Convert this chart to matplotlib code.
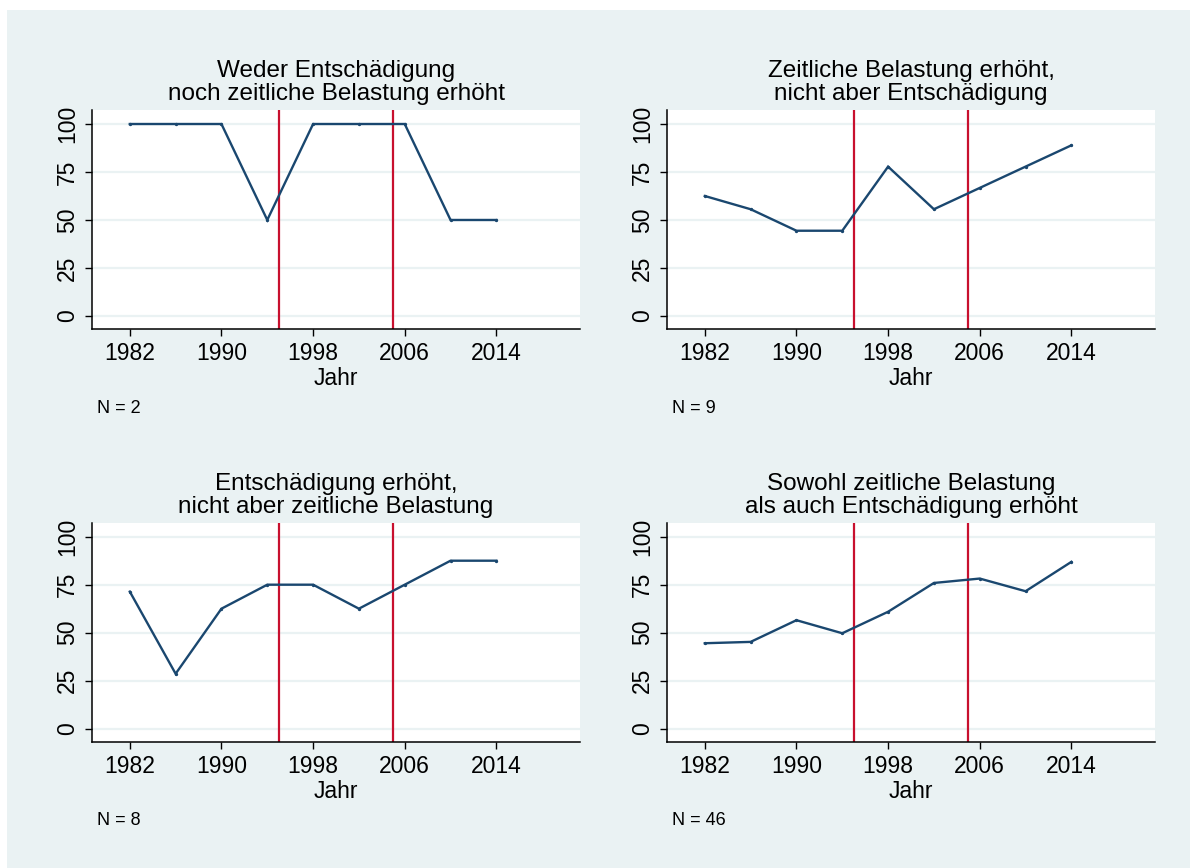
import matplotlib
matplotlib.use("Agg")
import matplotlib.pyplot as plt
from matplotlib.patches import Rectangle

plt.rcParams['font.family'] = ['Liberation Sans', 'DejaVu Sans']

years = [1982, 1986, 1990, 1994, 1998, 2002, 2006, 2010, 2014]
share_none = [100, 100, 100, 50, 100, 100, 100, 50, 50]
share_time_only = [62.5, 55.6, 44.4, 44.4, 77.8, 55.6, 66.7, 77.8, 88.9]
share_comp_only = [71.4, 28.6, 62.5, 75, 75, 62.5, 75, 87.5, 87.5]
share_both = [44.5, 45.2, 56.5, 49.7, 60.9, 75.9, 78.2, 71.6, 86.9]

titles = [
    ["Weder Entschädigung", "noch zeitliche Belastung erhöht"],
    ["Zeitliche Belastung erhöht,", "nicht aber Entschädigung"],
    ["Entschädigung erhöht,", "nicht aber zeitliche Belastung"],
    ["Sowohl zeitliche Belastung", "als auch Entschädigung erhöht"],
]
n_labels = ["N = 2", "N = 9", "N = 8", "N = 46"]
series = [share_none, share_time_only, share_comp_only, share_both]
reform_years = [1995, 2005]
x_ticks = [1982, 1990, 1998, 2006, 2014]
y_ticks = [0, 25, 50, 75, 100]

W, H = 1190, 868
BG = "#EAF2F3"
NAVY = "#1A476F"
RED = "#C8102E"

fig = plt.figure(figsize=(W / 100, H / 100), dpi=100, facecolor="white")
fig.patches.append(Rectangle((7 / W, 0), 1 - 7 / W, 1 - 10 / H,
                             transform=fig.transFigure, facecolor=BG,
                             edgecolor="none", zorder=-10))

# pixel boxes: (left, top, right, bottom)
boxes = [(92, 110, 580, 329), (667, 110, 1155, 329),
         (92, 522.7, 580, 741.7), (667, 522.7, 1155, 741.7)]

for i, (l, t, r, b) in enumerate(boxes):
    ax = fig.add_axes([l / W, 1 - b / H, (r - l) / W, (b - t) / H])
    ax.set_facecolor("white")
    for yv in y_ticks:
        ax.axhline(yv, color=BG, lw=1.6, zorder=1)
    for ry in reform_years:
        ax.axvline(ry, color=RED, lw=1.6, zorder=2)
    ax.plot(years, series[i], color=NAVY, lw=1.7, marker='o', ms=1.4,
            zorder=3, solid_joinstyle='miter')
    ax.set_xlim(1978.7, 2021.3)
    ax.set_ylim(-6.8, 107.3)
    ax.set_xticks(x_ticks)
    ax.set_yticks(y_ticks)
    ax.set_yticklabels([str(v) for v in y_ticks], rotation=90, va='center')
    ax.tick_params(axis='both', labelsize=16.5, length=5, width=1,
                   pad=4.5, color='black')
    for s in ['top', 'right']:
        ax.spines[s].set_visible(False)
    for s in ['left', 'bottom']:
        ax.spines[s].set_linewidth(1.1)
    cx = (l + r) / 2
    # titles
    fig.text(cx / W, 1 - (t - 33) / H, titles[i][0], ha='center',
             va='baseline', fontsize=17.5)
    fig.text(cx / W, 1 - (t - 10) / H, titles[i][1], ha='center',
             va='baseline', fontsize=17.5)
    # axis title
    fig.text(cx / W, 1 - (b + 56) / H, "Jahr", ha='center',
             va='baseline', fontsize=16.5)
    # N note
    fig.text((l + 5) / W, 1 - (b + 83.7) / H, n_labels[i], ha='left',
             va='baseline', fontsize=13)

fig.savefig("out.png", dpi=100, facecolor="white")
